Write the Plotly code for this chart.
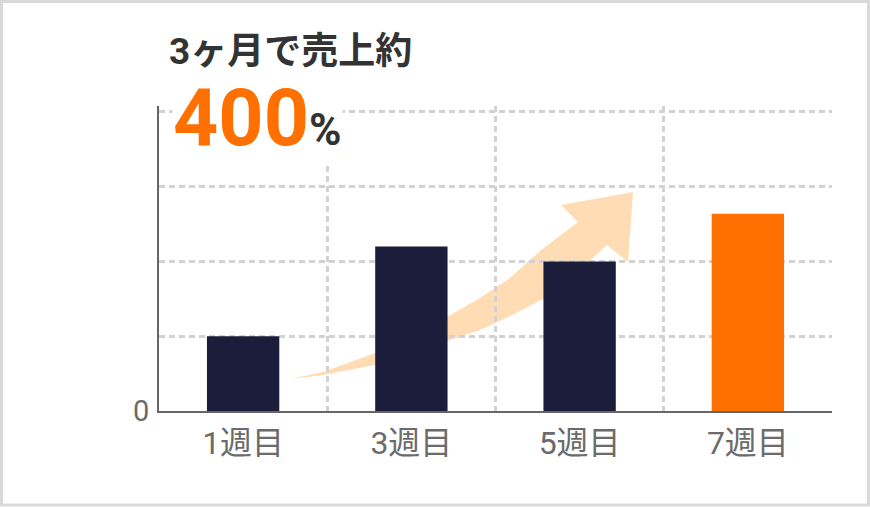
import plotly.graph_objects as go

# ---- data ----
categories = ["1週目", "3週目", "5週目", "7週目"]
sales = [1.0, 2.2, 2.0, 2.64]
bar_colors = ["#1C1C3B", "#1C1C3B", "#1C1C3B", "#FF7000"]
y_ticks = [0, 1, 2, 3, 4]
y_ticktext = ["0", "", "", "", ""]
title_text = "3ヶ月で売上約"
headline_value = "400"
headline_unit = "%"

# ---- layout constants ----
W, H = 870, 507
L, R, T, B = 159, 38, 106, 96
YMAX = 4.08

# decorative arrow outline (pixel estimates converted to data units)
arrow_pts = [
    (290, 379), (323, 372), (375, 353), (447, 317), (480, 298), (510, 278),
    (540, 251), (578, 222),
    (561, 205), (633, 192), (628, 262), (607, 245),
    (575, 274), (543, 299), (510, 316), (480, 330), (447, 341),
    (375, 365), (323, 375),
]
pw, ph = W - L - R, H - T - B
def to_data(px, py):
    return ((px - L) / pw * len(categories) - 0.5, (H - B - py) / ph * YMAX)
path = "M " + " L ".join(f"{x:.4f},{y:.4f}" for x, y in (to_data(*p) for p in arrow_pts)) + " Z"

xs = list(range(len(categories)))
fig = go.Figure()
fig.add_trace(go.Bar(x=xs, y=sales, marker=dict(color=bar_colors, line=dict(width=0)),
                     width=0.43, hoverinfo="skip"))

font_family = "Roboto, 'Noto Sans CJK JP', sans-serif"
grid_dash = "6px,4px"
grid_color = "#D2D2D2"
fig.update_layout(
    width=W, height=H,
    margin=dict(l=L, r=R, t=T, b=B),
    paper_bgcolor="white", plot_bgcolor="white",
    showlegend=False,
    font=dict(family=font_family, color="#666666"),
    xaxis=dict(
        range=[-0.5, len(categories) - 0.5],
        tickvals=xs, ticktext=categories,
        showgrid=False, zeroline=False,
        showline=True, linecolor="#666666", linewidth=2,
        ticks="", tickfont=dict(size=32, color="#6B6B6B"),
        ticklabelstandoff=3,
        minor=dict(tickvals=[i + 0.5 for i in xs], showgrid=True,
                   gridcolor=grid_color, griddash=grid_dash, gridwidth=3, ticks=""),
        fixedrange=True,
    ),
    yaxis=dict(
        range=[0, YMAX],
        tickvals=y_ticks, ticktext=y_ticktext,
        showgrid=True, gridcolor=grid_color, griddash=grid_dash, gridwidth=3,
        zeroline=False,
        showline=True, linecolor="#666666", linewidth=2,
        ticks="", tickfont=dict(size=29, color="#6B6B6B"),
        ticklabelstandoff=2,
        fixedrange=True,
    ),
    shapes=[
        dict(type="path", path=path, xref="x", yref="y", fillcolor="#FFDCB4",
             line=dict(width=0), layer="below"),
        dict(type="rect", xref="paper", yref="paper",
             x0=(1.5 - L) / pw, x1=(W - 1.5 - L) / pw,
             y0=-(B - 2) / ph, y1=1 + (T - 1.5) / ph,
             line=dict(color="#D9D9D9", width=3), fillcolor="rgba(0,0,0,0)"),
    ],
    annotations=[
        dict(text=f"<b>{title_text}</b>", xref="paper", yref="paper",
             x=(167 - L) / pw, y=1 + (T - 51) / ph, xanchor="left", yanchor="middle",
             showarrow=False, font=dict(size=37, color="#333333", family=font_family)),
        dict(text=f"<b><span style='color:#FF7000;font-size:79px'>{headline_value}</span>"
                  f"<span style='color:#333333;font-size:44px'>{headline_unit}</span></b>",
             xref="paper", yref="paper",
             x=(172 - L) / pw, y=1 + (T - 118) / ph, xanchor="left", yanchor="middle",
             showarrow=False, bgcolor="white", borderpad=0,
             font=dict(size=44, color="#333333", family=font_family)),
    ],
)

fig.write_html("out.html", config={"displayModeBar": False},
               post_script="document.body.style.margin='0';")
